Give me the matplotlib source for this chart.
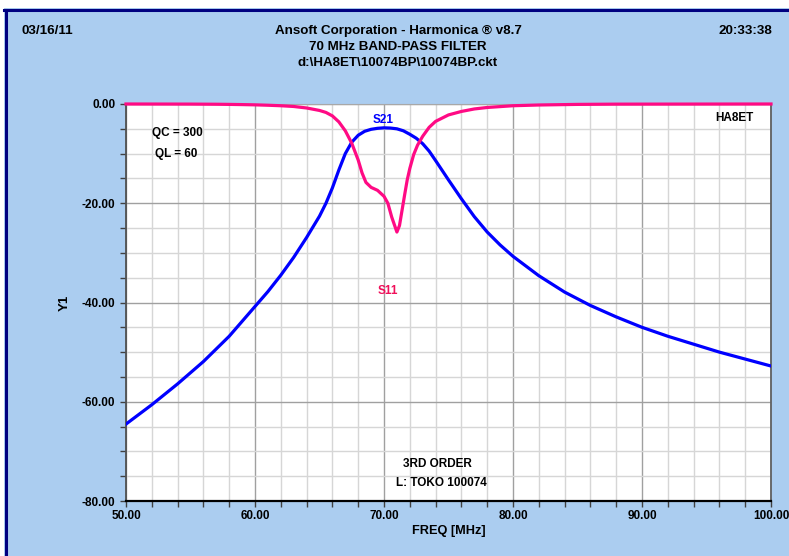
import matplotlib
matplotlib.use("Agg")
import matplotlib.pyplot as plt
from matplotlib.lines import Line2D
from matplotlib.patches import Rectangle
from matplotlib.ticker import FixedLocator, MultipleLocator, FuncFormatter

plt.rcParams['font.family'] = ['Liberation Sans', 'DejaVu Sans']
plt.rcParams['font.weight'] = 'bold'

# S21 (transmission) sweep, dB
freq_s21 = [50, 52, 54, 56, 58, 60, 61, 62, 63, 64, 65, 65.5, 66, 66.5, 67, 67.5,
            68, 68.5, 69, 69.5, 70, 70.5, 71, 71.5, 72, 72.5, 73, 73.5, 74, 75,
            76, 77, 78, 79, 80, 82, 84, 86, 88, 90, 92, 94, 96, 98, 100]
s21 = [-64.5, -60.6, -56.4, -51.9, -46.8, -40.8, -37.8, -34.5, -30.9, -26.9,
       -22.6, -20.0, -16.9, -13.3, -10.0, -7.7, -6.3, -5.5, -5.1, -4.9, -4.8,
       -4.85, -5.0, -5.4, -6.1, -6.9, -8.0, -9.5, -11.4, -15.3, -19.1, -22.7,
       -25.8, -28.4, -30.7, -34.6, -37.9, -40.6, -42.9, -45.0, -46.8, -48.4,
       -50.0, -51.4, -52.8]

# S11 (reflection) sweep, dB
freq_s11 = [50, 55, 57, 58, 59, 60, 61, 62, 63, 64, 65, 65.5, 66, 66.5, 67, 67.5,
            68, 68.3, 68.6, 69, 69.5, 70, 70.3, 70.6, 71, 71.2, 71.4, 71.6, 71.8,
            72, 72.3, 72.6, 73, 73.5, 74, 75, 76, 77, 78, 80, 82, 85, 88, 100]
s11 = [0, -0.02, -0.05, -0.08, -0.12, -0.17, -0.25, -0.35, -0.5, -0.8, -1.3,
       -1.7, -2.4, -3.6, -5.4, -7.9, -11.3, -13.9, -15.8, -16.8, -17.4, -18.6,
       -20.0, -22.8, -25.8, -24.5, -21.4, -18.3, -15.3, -13.0, -10.2, -8.3,
       -6.5, -4.7, -3.5, -2.2, -1.5, -1.0, -0.7, -0.35, -0.2, -0.08, -0.03, 0]

x_major = [50, 60, 70, 80, 90, 100]
y_major = [-80, -60, -40, -20, 0]

W, H = 789, 556
BG = '#abcdf0'
NAVY = '#000080'


def fx(px):
    return px / W


def fy(py):
    return 1 - py / H


fig = plt.figure(figsize=(W / 100, H / 100), dpi=100, facecolor=BG)

# window frame: white strip on top/left, navy rule lines
fig.patches.append(Rectangle((0, fy(8)), 1, 1 - fy(8), transform=fig.transFigure,
                             facecolor='white', edgecolor='none', zorder=0))
fig.patches.append(Rectangle((0, 0), fx(4), 1, transform=fig.transFigure,
                             facecolor='white', edgecolor='none', zorder=0))
fig.lines.append(Line2D([fx(4), 1], [fy(9.5), fy(9.5)], transform=fig.transFigure,
                        color=NAVY, lw=2.2))
fig.lines.append(Line2D([fx(5.5), fx(5.5)], [0, fy(9.5)], transform=fig.transFigure,
                        color=NAVY, lw=2.2))

ax = fig.add_axes([fx(126), fy(501), fx(771) - fx(126), fy(104) - fy(501)])
ax.set_facecolor('white')

ax.plot(freq_s21, s21, color='#0000ff', lw=2.3, solid_joinstyle='round', zorder=4)
ax.plot(freq_s11, s11, color='#ff0a84', lw=2.3, solid_joinstyle='round',
        zorder=5, clip_on=False)

ax.set_xlim(50, 100)
ax.set_ylim(-80, 0)
ax.xaxis.set_major_locator(FixedLocator(x_major))
ax.yaxis.set_major_locator(FixedLocator(y_major))
ax.xaxis.set_minor_locator(MultipleLocator(2))
ax.yaxis.set_minor_locator(MultipleLocator(5))
fmt = FuncFormatter(lambda v, pos: f"{v:.2f}" if abs(v) > 1e-9 else "0.00")
ax.xaxis.set_major_formatter(fmt)
ax.yaxis.set_major_formatter(fmt)

ax.grid(which='major', color='#a0a0a0', lw=1.0, zorder=1)
ax.grid(which='minor', color='#d6d6d6', lw=1.0, zorder=1)
ax.set_axisbelow(True)

ax.tick_params(which='both', direction='out', length=4.3, width=1.0,
               color='#404040', labelsize=8.5)
ax.tick_params(axis='y', pad=3.5)
ax.tick_params(axis='x', pad=2.0)

ax.spines['bottom'].set_color('black')
ax.spines['bottom'].set_linewidth(1.6)
ax.spines['left'].set_color('#505050')
ax.spines['left'].set_linewidth(1.3)
ax.spines['right'].set_color('#606060')
ax.spines['right'].set_linewidth(1.3)
ax.spines['top'].set_color('#a8a8a8')

# header
fig.text(fx(22), fy(31), '03/16/11', ha='left', va='center', fontsize=9.7)
fig.text(fx(772), fy(31), '20:33:38', ha='right', va='center', fontsize=9.7)
fig.text(fx(398), fy(31), 'Ansoft Corporation - Harmonica \u00ae v8.7',
         ha='center', va='center', fontsize=9.6)
fig.text(fx(398), fy(47), '70 MHz BAND-PASS FILTER', ha='center', va='center',
         fontsize=9.6)
fig.text(fx(398), fy(63), 'd:\\HA8ET\\10074BP\\10074BP.ckt', ha='center',
         va='center', fontsize=9.6)

# axis titles
fig.text(fx(65), fy(303), 'Y1', rotation=90, ha='center', va='center', fontsize=9.5)
fig.text(fx(449), fy(531), 'FREQ [MHz]', ha='center', va='center', fontsize=9.2)

# in-plot notes
fig.text(fx(177), fy(133), 'QC = 300', ha='center', va='center', fontsize=8.5)
fig.text(fx(176), fy(154), 'QL = 60', ha='center', va='center', fontsize=8.5)
fig.text(fx(734), fy(118), 'HA8ET', ha='center', va='center', fontsize=8.5)
fig.text(fx(437), fy(464), '3RD ORDER', ha='center', va='center', fontsize=8.5)
fig.text(fx(441), fy(483), 'L: TOKO 100074', ha='center', va='center', fontsize=8.5)
fig.text(fx(383), fy(120), 'S21', ha='center', va='center', fontsize=8.5,
         color='#0000ff')
fig.text(fx(388), fy(291), 'S11', ha='center', va='center', fontsize=8.5,
         color='#f0105a')

fig.savefig('out.png', dpi=100, facecolor=BG)
